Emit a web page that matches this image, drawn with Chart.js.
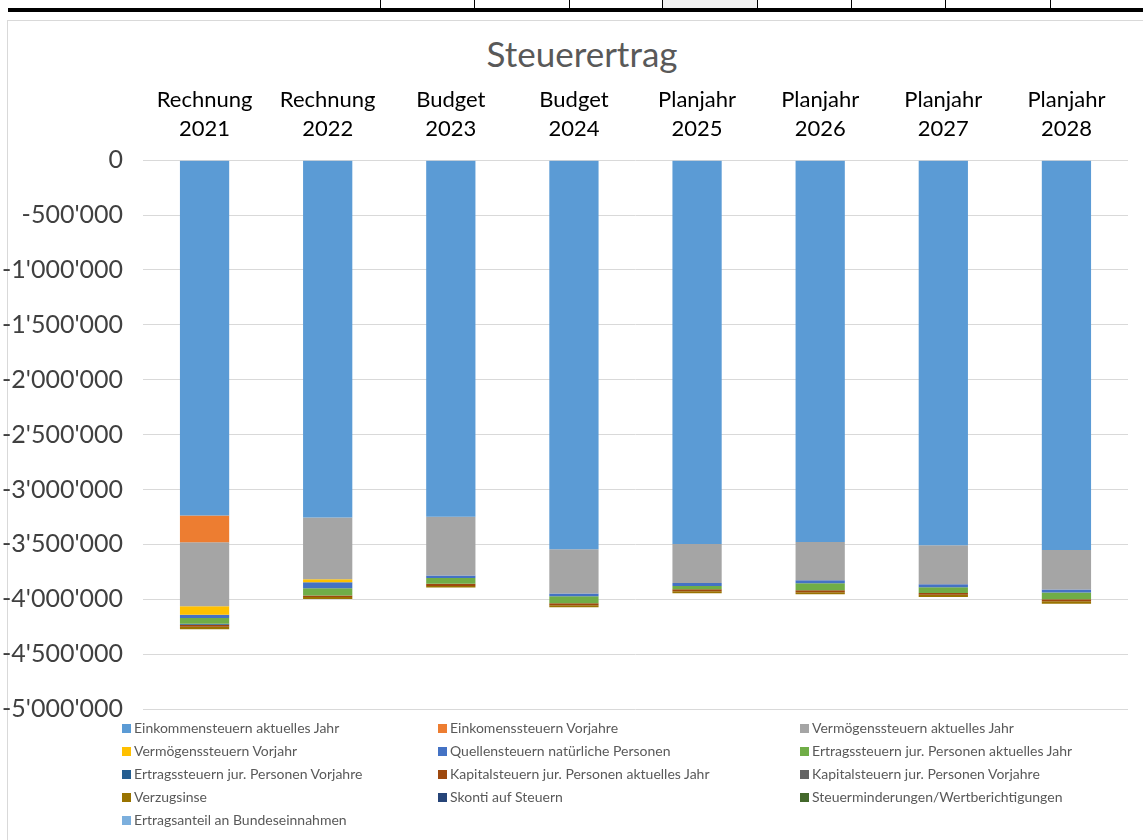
<!DOCTYPE html>
<html>
<head>
<meta charset="utf-8">
<title>Steuerertrag</title>
<script src="https://cdn.jsdelivr.net/npm/chart.js@4.4.1/dist/chart.umd.min.js"></script>
<style>
    body { margin: 0; background: #fff; font-family: Lato, "Liberation Sans", sans-serif; width: 1143px; height: 840px; overflow: hidden; position: relative; }
    #sheetTop { position: absolute; left: 8px; top: 0; width: 1135px; height: 8px; }
    #sheetTop .cell { position: absolute; top: 0; height: 8px; border-left: 1px solid #000; }
    #sheetLine { position: absolute; left: 8px; top: 8px; width: 1135px; height: 4px; background: #000; }
    #frame { position: absolute; left: 7px; top: 20px; width: 1140px; height: 830px; border: 1px solid #d9d9d9; }
    #chartBox { position: absolute; left: 0; top: 21px; width: 1143px; height: 723px; }
    #chartTitle { position: absolute; left: 382px; width: 400px; top: 33px; text-align: center; font-size: 35px; line-height: 40px; color: #595959; }
    #legend { position: absolute; left: 0; top: 716px; width: 1143px; height: 120px; }
    .item { position: absolute; height: 23px; line-height: 23px; font-size: 14px; color: #595959; white-space: nowrap; }
    .item span.box { display: inline-block; width: 9px; height: 9px; margin-right: 3px; }
</style>
</head>
<body>
<div id="sheetTop"></div>
<div id="sheetLine"></div>
<div id="frame"></div>
<div id="chartTitle">Steuerertrag</div>
<div id="chartBox"><canvas id="taxChart"></canvas></div>
<div id="legend"></div>

<script>
// ================ Daten ================
const years = [
    ['Rechnung', '2021'], ['Rechnung', '2022'], ['Budget', '2023'], ['Budget', '2024'],
    ['Planjahr', '2025'], ['Planjahr', '2026'], ['Planjahr', '2027'], ['Planjahr', '2028']
];

const einkommenAktuell   = [-3236000, -3255000, -3248000, -3545000, -3497000, -3479000, -3509000, -3552000];
const einkommenVorjahre  = [-245000, 0, 0, 0, 0, 0, 0, 0];
const vermoegenAktuell   = [-582000, -564000, -536000, -403000, -355000, -348000, -355000, -360000];
const vermoegenVorjahr   = [-79000, -27000, 0, 0, 0, 0, 0, 0];
const quellensteuern     = [-30000, -55000, -23000, -25000, -27000, -27000, -27000, -27000];
const ertragAktuell      = [-52000, -64000, -52000, -64000, -30000, -64000, -52000, -61000];
const ertragVorjahre     = [-9000, 0, 0, 0, 0, 0, 0, 0];
const kapitalAktuell     = [-18000, -14000, -21000, -18000, -18000, -18000, -16000, -18000];
const kapitalVorjahre    = [-3000, 0, 0, 0, 0, 0, 0, 0];
const verzugszinse       = [-20000, -18000, -14000, -18000, -18000, -18000, -20000, -22000];
const skonti             = [0, 0, 0, 0, 0, 0, 0, 0];
const steuerminderungen  = [0, 0, 0, 0, 0, 0, 0, 0];
const bundesanteil       = [0, 0, 0, 0, 0, 0, 0, 0];

const yTicks = { min: -5000000, max: 0, step: 500000 };

// ================ Serien ================
const series = [
    { label: 'Einkommensteuern aktuelles Jahr', data: einkommenAktuell, color: '#5B9BD5' },
    { label: 'Einkomenssteuern Vorjahre', data: einkommenVorjahre, color: '#ED7D31' },
    { label: 'Vermögenssteuern aktuelles Jahr', data: vermoegenAktuell, color: '#A5A5A5' },
    { label: 'Vermögenssteuern Vorjahr', data: vermoegenVorjahr, color: '#FFC000' },
    { label: 'Quellensteuern natürliche Personen', data: quellensteuern, color: '#4472C4' },
    { label: 'Ertragssteuern jur. Personen aktuelles Jahr', data: ertragAktuell, color: '#70AD47' },
    { label: 'Ertragssteuern jur. Personen Vorjahre', data: ertragVorjahre, color: '#255E91' },
    { label: 'Kapitalsteuern jur. Personen aktuelles Jahr', data: kapitalAktuell, color: '#9E480E' },
    { label: 'Kapitalsteuern jur. Personen Vorjahre', data: kapitalVorjahre, color: '#636363' },
    { label: 'Verzugsinse', data: verzugszinse, color: '#997300' },
    { label: 'Skonti auf Steuern', data: skonti, color: '#264478' },
    { label: 'Steuerminderungen/Wertberichtigungen', data: steuerminderungen, color: '#43682B' },
    { label: 'Ertragsanteil an Bundeseinnahmen', data: bundesanteil, color: '#7CAFDD' }
];

// ================ Tabellenkopf oben (Excel-Blatt) ================
const sheetCols = [372, 466, 561, 654, 749, 843, 937, 1042];
const sheetTop = document.getElementById('sheetTop');
sheetCols.forEach((x, i) => {
    const d = document.createElement('div');
    d.className = 'cell';
    d.style.left = x + 'px';
    d.style.width = ((sheetCols[i + 1] || 1135) - x - 1) + 'px';
    if (i === 3) d.style.background = '#f2f2f2';
    sheetTop.appendChild(d);
});

function swissFormat(v) {
    return v.toString().replace(/\B(?=(\d{3})+(?!\d))/g, "'");
}

const ctx = document.getElementById('taxChart').getContext('2d');
const myChart = new Chart(ctx, {
    type: 'bar',
    data: {
        labels: years,
        datasets: series.map(s => ({
            label: s.label,
            data: s.data,
            backgroundColor: s.color,
            borderWidth: 0,
            barPercentage: 0.4,
            categoryPercentage: 1.0
        }))
    },
    options: {
        responsive: true,
        maintainAspectRatio: false,
        animation: false,
        layout: { padding: { left: 0, right: 15, top: 48, bottom: 13 } },
        plugins: {
            legend: { display: false },
            tooltip: { enabled: false },
            title: { display: false }
        },
        scales: {
            x: {
                stacked: true,
                position: 'top',
                grid: { display: false, drawTicks: false },
                border: { display: false },
                ticks: {
                    color: '#000',
                    font: { family: 'Lato', size: 22, lineHeight: 1.3 },
                    padding: 17,
                    maxRotation: 0
                }
            },
            y: {
                stacked: true,
                min: yTicks.min,
                max: yTicks.max,
                grid: { color: '#d9d9d9', lineWidth: 1, drawTicks: false },
                border: { display: false },
                ticks: {
                    stepSize: yTicks.step,
                    color: '#404040',
                    font: { family: 'Lato', size: 25 },
                    padding: 20,
                    callback: (value) => swissFormat(value)
                },
                afterFit: (scale) => { scale.width = 143; }
            }
        }
    }
});

// ================ Legende ================
const legendCols = [122, 438, 800];
const legendDiv = document.getElementById('legend');
series.forEach((s, i) => {
    const item = document.createElement('div');
    item.className = 'item';
    item.style.left = legendCols[i % 3] + 'px';
    item.style.top = (Math.floor(i / 3) * 23) + 'px';
    item.innerHTML = `<span class="box" style="background:${s.color}"></span>${s.label}`;
    legendDiv.appendChild(item);
});
</script>
</body>
</html>
